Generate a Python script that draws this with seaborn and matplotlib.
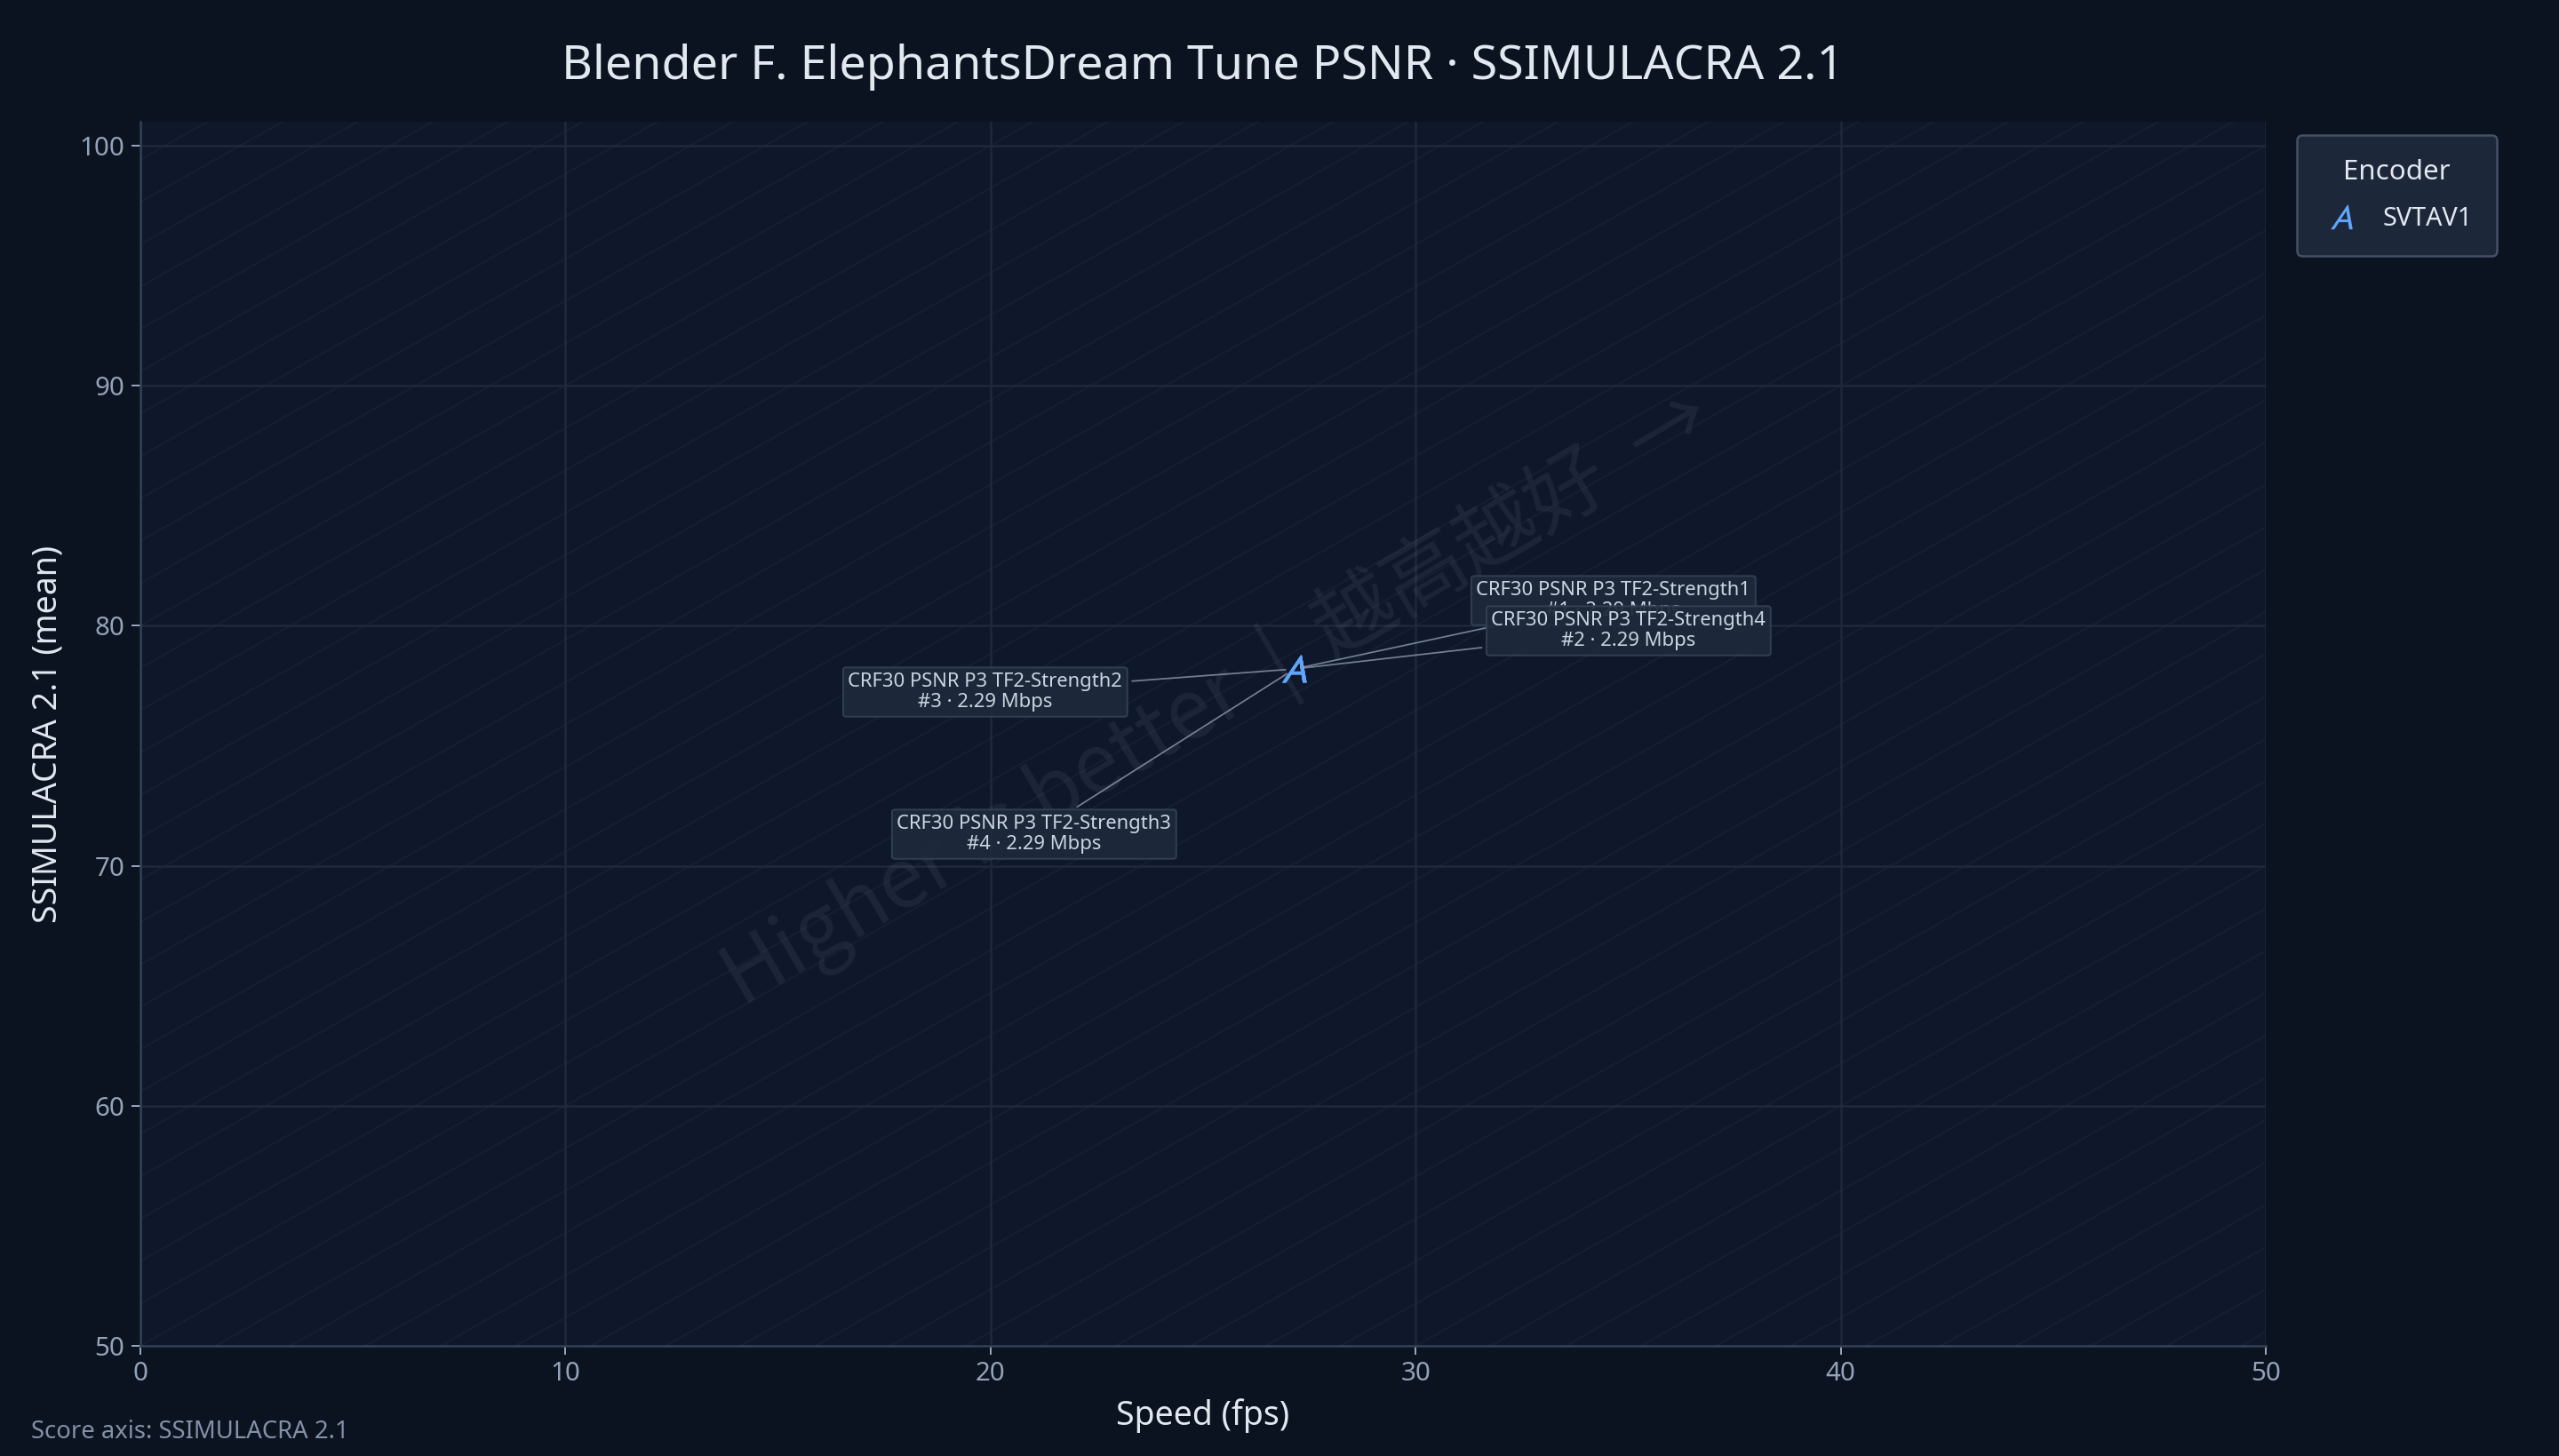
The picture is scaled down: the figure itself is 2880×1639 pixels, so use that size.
import numpy as np
import pandas as pd
import matplotlib
matplotlib.use("Agg")
import matplotlib.pyplot as plt
from matplotlib.lines import Line2D
import matplotlib.patheffects as pe
import seaborn as sns

# ---------------- data ----------------
configs = [
    "CRF30 PSNR P3 TF2-Strength1",
    "CRF30 PSNR P3 TF2-Strength4",
    "CRF30 PSNR P3 TF2-Strength2",
    "CRF30 PSNR P3 TF2-Strength3",
]
ranks = [1, 2, 3, 4]
encoders = ["SVTAV1", "SVTAV1", "SVTAV1", "SVTAV1"]
speed_fps = [27.15, 27.15, 27.15, 27.15]
ssimulacra_mean = [78.2, 78.2, 78.2, 78.2]
bitrate_mbps = [2.29, 2.29, 2.29, 2.29]

x_ticks = [0, 10, 20, 30, 40, 50]
y_ticks = [50, 60, 70, 80, 90, 100]

title = "Blender F. ElephantsDream Tune PSNR · SSIMULACRA 2.1"
x_label = "Speed (fps)"
y_label = "SSIMULACRA 2.1 (mean)"
footnote = "Score axis: SSIMULACRA 2.1"
watermark = "Higher is better  |  越高越好  →"

df = pd.DataFrame({
    "config": configs, "rank": ranks, "encoder": encoders,
    "speed": speed_fps, "score": ssimulacra_mean, "bitrate": bitrate_mbps,
})

# label offsets in points (layout only)
label_offsets = [(143.6, 30.8), (150.4, 17.2), (-139.2, -10.4), (-117.2, -74.4)]

# ---------------- style ----------------
FIG_BG = "#0b1220"
AX_BG = "#0f172a"
GRID = "#1e293b"
SPINE = "#334155"
TICK = "#94a3b8"
TEXT = "#e2e8f0"
BLUE = "#60a5fa"

sns.set_theme(style="dark")
plt.rcParams["font.family"] = ["Noto Sans", "Noto Sans CJK SC", "DejaVu Sans"]
plt.rcParams["mathtext.fontset"] = "stixsans"

fig = plt.figure(figsize=(16, 1639 / 180), dpi=180, facecolor=FIG_BG)
ax = fig.add_axes([158 / 2880, 1 - 1515 / 1639, (2550 - 158) / 2880, (1515 - 137) / 1639])
ax.set_facecolor(AX_BG)

# faint diagonal guide lines
for c in np.arange(50 - 1.765 * 40, 101 + 1.765 * 5, 1.765):
    ax.plot([0, 50], [c, c + 50], color="#94a3b8", alpha=0.055, lw=0.8, zorder=0.5)

sns.scatterplot(
    data=df, x="speed", y="score", hue="encoder", palette={"SVTAV1": BLUE},
    marker="$A$", s=150, linewidth=0, legend=False, ax=ax, zorder=5,
)

for (_, row), (dx, dy) in zip(df.iterrows(), label_offsets):
    ax.annotate(
        f"{row['config']}\n#{row['rank']} · {row['bitrate']:.2f} Mbps",
        xy=(row["speed"], row["score"]), xytext=(dx, dy), textcoords="offset points",
        ha="center", va="center", fontsize=8.8, color="#cbd5e1", linespacing=1.15,
        bbox=dict(boxstyle="round,pad=0.25,rounding_size=0.15", fc="#1e293b",
                  ec="#334155", lw=0.8, alpha=0.93),
        arrowprops=dict(arrowstyle="-", color="#94a3b8", lw=0.7, alpha=0.75,
                        shrinkA=2, shrinkB=4),
        zorder=6,
    )

ax.text(0.507, 0.528, watermark, transform=ax.transAxes, rotation=30.5,
        rotation_mode="anchor", ha="center", va="center", fontsize=37,
        color="#94a3b8", alpha=0.10, zorder=1, fontweight="light",
        family=["Noto Sans CJK SC", "DejaVu Sans"])

ax.set_xlim(0, 50)
ax.set_ylim(50, 101)
ax.set_xticks(x_ticks)
ax.set_yticks(y_ticks)
ax.grid(True, color=GRID, lw=1.0, zorder=0)
ax.set_axisbelow(True)
for s in ["top", "right"]:
    ax.spines[s].set_visible(False)
for s in ["left", "bottom"]:
    ax.spines[s].set_color(SPINE)
    ax.spines[s].set_linewidth(1.0)
ax.tick_params(axis="both", colors=TICK, labelsize=11.8, length=4, width=0.8,
               left=True, bottom=True, pad=3)

ax.set_xlabel(x_label, color=TEXT, fontsize=15, labelpad=5)
ax.set_ylabel(y_label, color=TEXT, fontsize=15, labelpad=7)
fig.text((158 + 2550) / 2 / 2880, 1 - 75 / 1639, title, ha="center", va="center",
         fontsize=21.5, color=TEXT)
fig.text(35 / 2880, 1 - 1612 / 1639, footnote, ha="left", va="center",
         fontsize=11, color="#8391a7")

handle = Line2D([], [], linestyle="none", marker="$A$", markersize=11,
                color=BLUE, markeredgewidth=0)
leg = ax.legend(
    [handle], ["SVTAV1"], title="Encoder", loc="upper left",
    bbox_to_anchor=(1 + 35 / 2392, 1 - 15 / 1378), borderaxespad=0,
    frameon=True, fontsize=11.5, title_fontsize=12.5, handletextpad=0.8,
    borderpad=0.95, labelspacing=0.6, handlelength=1.6, fancybox=True,
)
leg._legend_box.sep = 9
frame = leg.get_frame()
frame.set_facecolor("#1e293b")
frame.set_edgecolor("#475569")
frame.set_alpha(0.95)
frame.set_linewidth(1.0)
leg.get_title().set_color(TEXT)
for t in leg.get_texts():
    t.set_color(TEXT)

fig.savefig("out.png", dpi=180, facecolor=FIG_BG)
